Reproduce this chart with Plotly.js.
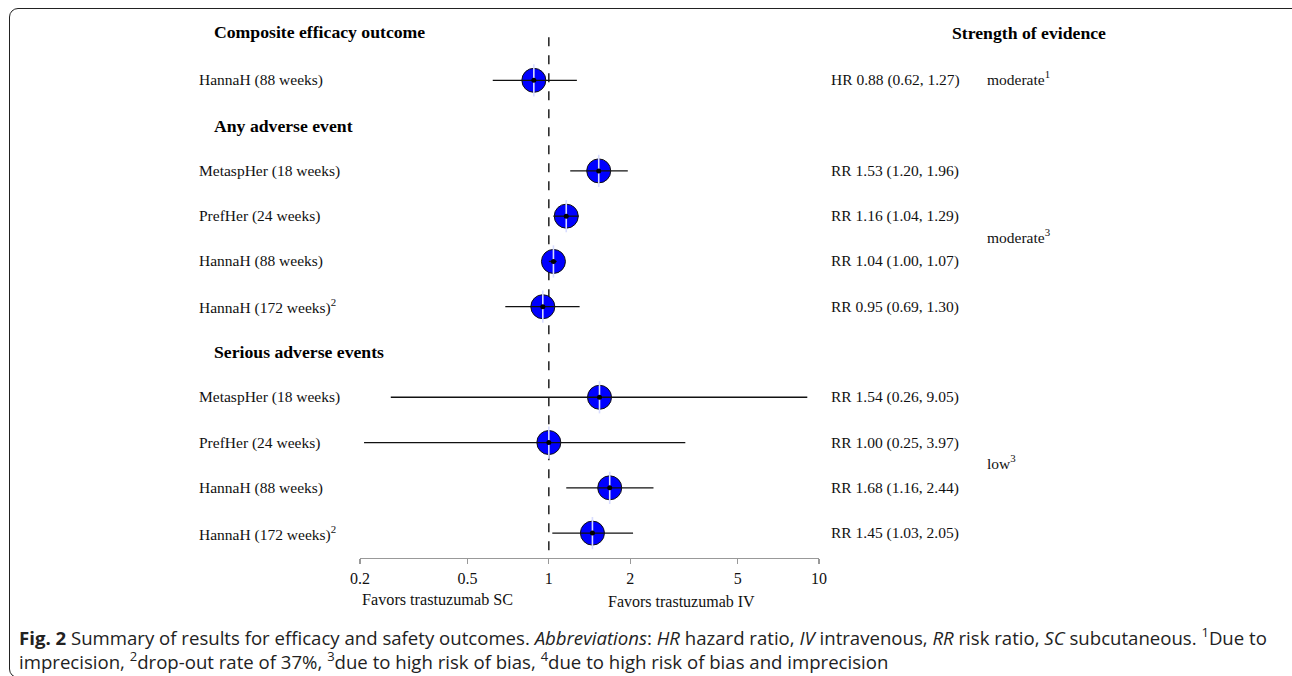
<!DOCTYPE html>
<html>
<head>
<meta charset="utf-8">
<script src="https://cdn.plot.ly/plotly-3.0.1.min.js"></script>
<style>
  html, body { margin: 0; padding: 0; background: #fff; overflow: hidden; }
  #chart { width: 1292px; height: 676px; }
  #frame { position: absolute; left: 9px; top: 8px; width: 1300px; height: 670px;
           border: 1.5px solid #222; border-radius: 9px; pointer-events: none; box-sizing: border-box; }
</style>
</head>
<body>
<div id="chart"></div>
<div id="frame"></div>
<script>
// ---- data ----
const rowLabels = [
  "Composite efficacy outcome",
  "HannaH (88 weeks)",
  "Any adverse event",
  "MetaspHer (18 weeks)",
  "PrefHer (24 weeks)",
  "HannaH (88 weeks)",
  "HannaH (172 weeks)<sup>2</sup>",
  "Serious adverse events",
  "MetaspHer (18 weeks)",
  "PrefHer (24 weeks)",
  "HannaH (88 weeks)",
  "HannaH (172 weeks)<sup>2</sup>"
];
const isHeader = [true, false, true, false, false, false, false, true, false, false, false, false];
const measure  = [null, "HR", null, "RR", "RR", "RR", "RR", null, "RR", "RR", "RR", "RR"];
const estimate = [null, 0.88, null, 1.53, 1.16, 1.04, 0.95, null, 1.54, 1.00, 1.68, 1.45];
const lower    = [null, 0.62, null, 1.20, 1.04, 1.00, 0.69, null, 0.26, 0.25, 1.16, 1.03];
const upper    = [null, 1.27, null, 1.96, 1.29, 1.07, 1.30, null, 9.05, 3.97, 2.44, 2.05];
// whisker ends as drawn in the picture (PrefHer serious whisker is drawn shifted)
const whiskerLow  = [null, 0.62, null, 1.20, 1.04, 1.00, 0.69, null, 0.26, 0.207, 1.16, 1.03];
const whiskerHigh = [null, 1.27, null, 1.96, 1.29, 1.07, 1.30, null, 9.05, 3.2, 2.44, 2.05];
const evidenceLabels = ["moderate<sup>1</sup>", "moderate<sup>3</sup>", "low<sup>3</sup>"];
const evidenceRows   = [[1], [3, 4, 5, 6], [8, 9, 10, 11]];
const tickValues = [0.2, 0.5, 1, 2, 5, 10];
const tickLabels = ["0.2", "0.5", "1", "2", "5", "10"];
const leftHeader = "Favors trastuzumab SC";
const rightHeader = "Favors trastuzumab IV";
const evidenceTitle = "Strength of evidence";
const caption = "<b>Fig. 2</b> Summary of results for efficacy and safety outcomes. <i>Abbreviations</i>: <i>HR</i> hazard ratio, <i>IV</i> intravenous, <i>RR</i> risk ratio, <i>SC</i> subcutaneous. <sup>1</sup>Due to<br>imprecision, <sup>2</sup>drop-out rate of 37%, <sup>3</sup>due to high risk of bias, <sup>4</sup>due to high risk of bias and imprecision";

// ---- layout helpers (pixel -> paper) ----
const W = 1292, H = 676;
const yTop = -0.2, yBot = 11.55;
const plotL = 360, plotR = 819, plotB = 558;
const rowPx = 45.3;
const plotT = plotB - rowPx * (yBot - yTop);
const px2x = p => (p - plotL) / (plotR - plotL);
const px2y = p => (plotB - p) / (plotB - plotT);

const serif = "Liberation Serif, Times New Roman, serif";
const txtFont = {family: serif, size: 15.5, color: "#111"};
const hdrFont = {family: serif, size: 17.7, color: "#000"};

// study rows
const ex = [], ey = [], lx = [], ly = [];
estimate.forEach((v, i) => {
  if (v === null) return;
  ex.push(v); ey.push(i);
  lx.push(whiskerLow[i], whiskerHigh[i], null); ly.push(i, i, null);
});

const traces = [
  {x: ex, y: ey, type: "scatter", mode: "markers", hoverinfo: "skip",
   marker: {symbol: "circle", size: 24, color: "#0000ff", line: {color: "#111", width: 1}}},
  {x: ex, y: ey, type: "scatter", mode: "markers", hoverinfo: "skip",
   marker: {symbol: "line-ns", size: 23, color: "#d8dcff", line: {color: "#d8dcff", width: 1.6}}},
  {x: lx, y: ly, type: "scatter", mode: "lines", hoverinfo: "skip",
   line: {color: "#111", width: 1.3}},
  {x: ex, y: ey, type: "scatter", mode: "markers", hoverinfo: "skip",
   marker: {symbol: "circle", size: 5, color: "#000"}}
];

const annotations = [];
rowLabels.forEach((lab, i) => {
  annotations.push({
    x: isHeader[i] ? px2x(212) : px2x(197), xref: "paper", y: i, yref: "y",
    xanchor: "left", yanchor: "middle", showarrow: false, text: isHeader[i] ? "<b>" + lab + "</b>" : lab,
    font: isHeader[i] ? hdrFont : txtFont, yshift: i === 0 ? 3 : 0
  });
  if (estimate[i] !== null) {
    annotations.push({
      x: px2x(829), xref: "paper", y: i, yref: "y", xanchor: "left", yanchor: "middle",
      showarrow: false, font: txtFont,
      text: measure[i] + " " + estimate[i].toFixed(2) + " (" + lower[i].toFixed(2) + ", " + upper[i].toFixed(2) + ")"
    });
  }
});
evidenceLabels.forEach((lab, k) => {
  const rows = evidenceRows[k];
  const yc = rows.reduce((a, b) => a + b, 0) / rows.length;
  annotations.push({
    x: px2x(985), xref: "paper", y: yc, yref: "y", xanchor: "left", yanchor: "middle",
    showarrow: false, font: txtFont, text: lab, yshift: rows.length > 1 ? 3 : 2
  });
});
annotations.push({x: px2x(1029), xref: "paper", y: px2y(33), yref: "paper", xanchor: "center", yanchor: "middle",
  showarrow: false, font: hdrFont, text: "<b>" + evidenceTitle + "</b>"});
annotations.push({x: px2x(437), xref: "paper", y: px2y(600), yref: "paper", xanchor: "center", yanchor: "middle",
  showarrow: false, font: {family: serif, size: 16.2, color: "#111"}, text: leftHeader});
annotations.push({x: px2x(681), xref: "paper", y: px2y(602), yref: "paper", xanchor: "center", yanchor: "middle",
  showarrow: false, font: {family: serif, size: 16, color: "#111"}, text: rightHeader});
annotations.push({x: px2x(17), xref: "paper", y: px2y(648.5), yref: "paper", xanchor: "left", yanchor: "middle",
  align: "left", showarrow: false, text: caption,
  font: {family: "Open Sans, sans-serif", size: 18.6, color: "#222"}});

const layout = {
  width: W, height: H,
  margin: {l: plotL, r: W - plotR, t: plotT, b: H - plotB, pad: 0},
  paper_bgcolor: "#fff", plot_bgcolor: "#fff",
  showlegend: false,
  xaxis: {type: "log", range: [Math.log10(0.2), Math.log10(10)], tickvals: tickValues, ticktext: tickLabels,
          ticks: "outside", ticklen: 5, tickwidth: 1.2, tickcolor: "#999", showline: true, linecolor: "#999",
          linewidth: 1.3, showgrid: false, zeroline: false, tickfont: {family: serif, size: 16, color: "#111"},
          fixedrange: true},
  yaxis: {range: [yBot, yTop], showgrid: false, zeroline: false, showticklabels: false, showline: false,
          ticks: "", fixedrange: true},
  shapes: [{type: "line", xref: "x", yref: "y", x0: 1, x1: 1, y0: 0.05, y1: yBot, layer: "below",
            line: {color: "#111", width: 1.4, dash: "dash"}}],
  annotations: annotations
};

Plotly.newPlot("chart", traces, layout, {displayModeBar: false, staticPlot: true});
</script>
</body>
</html>
